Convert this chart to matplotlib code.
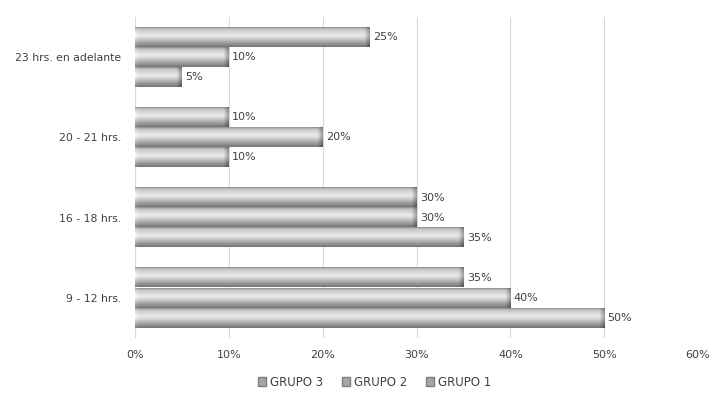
import numpy as np
import matplotlib.pyplot as plt
from matplotlib.patches import Patch

# Data
categories = ['9 - 12 hrs.', '16 - 18 hrs.', '20 - 21 hrs.', '23 hrs. en adelante']
grupo1 = [50, 35, 10, 5]
grupo2 = [40, 30, 20, 10]
grupo3 = [35, 30, 10, 25]
series = [('GRUPO 1', grupo1), ('GRUPO 2', grupo2), ('GRUPO 3', grupo3)]
xticks = [0, 10, 20, 30, 40, 50, 60]

text_color = '#404040'
plt.rcParams['font.family'] = 'DejaVu Sans'


def bevel_image(w_px, h_px):
    # grayscale bevel: light middle, darker bottom, dark right end
    ys = np.linspace(0, 1, h_px)
    prof = np.interp(ys, [0, 0.1, 0.4, 0.55, 0.8, 0.9, 1.0],
                     [0.60, 0.78, 0.92, 0.84, 0.62, 0.55, 0.47])
    img = np.tile(prof[:, None], (1, w_px))
    bev = 5
    if w_px > 2 * bev:
        # right end bevel
        for i in range(bev):
            t = (i + 1) / bev
            img[:, w_px - bev + i] = img[:, w_px - bev + i] * (1 - 0.3 * t)
        # left end bevel (lighter)
        for i in range(bev):
            t = 1 - i / bev
            img[:, i] = np.clip(img[:, i] + 0.05 * t, 0, 1)
    return np.dstack([img, img, img])


fig = plt.figure(figsize=(7.27, 3.93), dpi=100)
ax = fig.add_axes([135 / 727, 1 - 338 / 393, (698 - 135) / 727, (338 - 17) / 393])

y = np.arange(len(categories))
bar_h = 0.25
offsets = [-bar_h, 0, bar_h]

for (name, vals), off in zip(series, offsets):
    bars = ax.barh(y + off, vals, height=bar_h * 0.96, color='#b0b0b0', edgecolor='none', zorder=2)
    for b, v in zip(bars, vals):
        x0, y0 = b.get_x(), b.get_y()
        w, h = b.get_width(), b.get_height()
        w_px = max(int(round(w * 9.4)), 2)
        ax.imshow(bevel_image(w_px, 20), extent=[x0, x0 + w, y0, y0 + h],
                  aspect='auto', interpolation='bilinear', zorder=3)
        ax.text(x0 + w + 0.35, y0 + h / 2, f'{v}%', va='center', ha='left',
                fontsize=8, color=text_color, zorder=4)

ax.set_xlim(0, 60)
ax.set_ylim(-0.5, 3.5)
ax.set_xticks(xticks)
ax.set_xticklabels([f'{t}%' for t in xticks], fontsize=8, color=text_color)
ax.set_yticks(y)
ax.set_yticklabels(categories, fontsize=7.8, color=text_color)
ax.tick_params(axis='both', length=0, pad=9)
ax.tick_params(axis='y', pad=10)
ax.xaxis.grid(True, color='#d9d9d9', linewidth=0.8, zorder=0)
ax.set_axisbelow(True)
for s in ax.spines.values():
    s.set_visible(False)
ax.axvline(0, color='#d9d9d9', linewidth=0.8, zorder=1)

handles = [Patch(facecolor='#a6a6a6', edgecolor='#7f7f7f', label=n) for n in ['GRUPO 3', 'GRUPO 2', 'GRUPO 1']]
leg = fig.legend(handles=handles, loc='center', bbox_to_anchor=(0.515, 1 - 382 / 393), ncol=3,
                 frameon=False, fontsize=8.5, handlelength=0.7, handleheight=0.7,
                 handletextpad=0.3, columnspacing=1.6)
for t in leg.get_texts():
    t.set_color(text_color)

fig.savefig('out.png', dpi=100)
